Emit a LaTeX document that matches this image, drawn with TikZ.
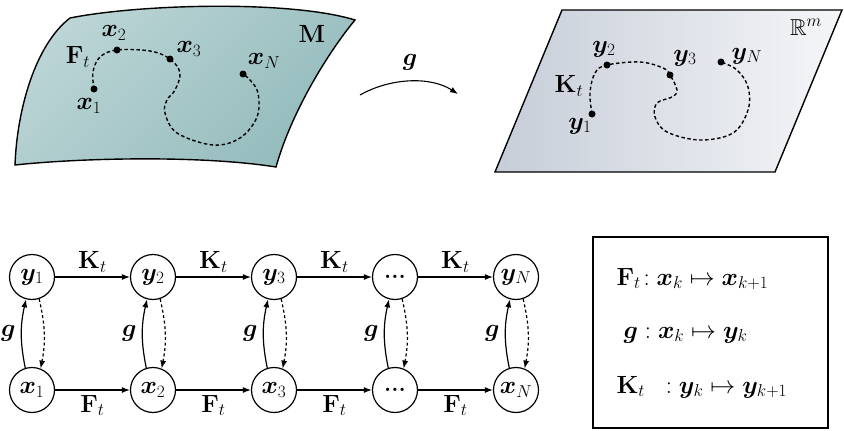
\documentclass[tikz,border=0pt]{standalone}
\usepackage{amsmath,amssymb,bm}
\usetikzlibrary{arrows.meta,calc}
\newcommand\sbx[1]{_{\mbox{\fontsize{19}{22}\selectfont$#1$}}}
\newcommand\spx[1]{^{\mbox{\fontsize{19}{22}\selectfont$#1$}}}
\definecolor{mlight}{RGB}{188,213,214}
\definecolor{mdark}{RGB}{148,187,188}
\definecolor{pdark}{RGB}{198,205,216}
\definecolor{plight}{RGB}{245,246,248}
\begin{document}
\begin{tikzpicture}[x=1pt,y=-1pt,
  font=\fontsize{23}{28}\selectfont,
  dot/.style={circle,fill=black,inner sep=0pt,minimum size=7pt},
  state/.style={circle,draw,line width=1.2pt,minimum size=45pt,inner sep=0pt},
  arr/.style={-{Latex[length=8pt,width=6pt]},line width=1.2pt},
  darr/.style={arr,dash pattern=on 3pt off 2.5pt},
  curve/.style={line width=1.4pt,dash pattern=on 3.5pt off 2.5pt},
  edge/.style={line width=1.4pt}]
\useasboundingbox (0,0) rectangle (844,431);

% ---- manifold M ----
\shade[top color=mlight,bottom color=mdark,shading angle=45]
  (70,18) .. controls (140,4) and (290,0) .. (355,20)
  .. controls (330,50) and (292,110) .. (276,167)
  .. controls (200,155) and (80,158) .. (15,165)
  .. controls (17,110) and (35,45) .. (70,18) -- cycle;
\draw[edge]
  (70,18) .. controls (140,4) and (290,0) .. (355,20)
  .. controls (330,50) and (292,110) .. (276,167)
  .. controls (200,155) and (80,158) .. (15,165)
  .. controls (17,110) and (35,45) .. (70,18) -- cycle;
\draw[curve] plot[smooth,tension=0.6] coordinates {(94,89) (93,72) (100,57) (117,50) (150,51) (170,59) (180,73) (175,90) (167,100) (165,113) (177,133) (213,145) (240,138) (257,117) (258,93) (250,80) (243,74)};
\node[dot] (px1) at (94,89) {};
\node[dot] (px2) at (117,50) {};
\node[dot] (px3) at (170,59) {};
\node[dot] (pxN) at (243,74) {};
\node (lx1) at (89,106) {$\boldsymbol{x}\sbx{1}$};
\node (lx2) at (114,33) {$\boldsymbol{x}\sbx{2}$};
\node (lx3) at (189,49) {$\boldsymbol{x}\sbx{3}$};
\node (lxN) at (264,61) {$\boldsymbol{x}\sbx{N}$};
\node (lF) at (78,57) {$\mathbf{F}\sbx{t}$};
\node (lM) at (312,34) {$\mathbf{M}$};

% ---- map g ----
\coordinate (ga) at (360,95);
\coordinate (gb) at (458,94);
\draw[arr,line width=1.1pt] (ga) .. controls (390,78) and (430,76) .. (gb);
\node (lg) at (410,62) {$\boldsymbol{g}$};

% ---- plane R^m ----
\shade[left color=pdark,right color=plight]
  (562,10) -- (842,10) -- (775,172) -- (495,172) -- cycle;
\draw[edge] (562,10) -- (842,10) -- (775,172) -- (495,172) -- cycle;
\draw[curve] plot[smooth,tension=0.6] coordinates {(592,114) (590,93) (595,73) (607,65) (640,62) (663,68) (670,75) (677,90) (672,97) (657,103) (655,117) (667,132) (700,140) (733,133) (748,110) (748,87) (737,70) (721,62)};
\node[dot] (py1) at (592,114) {};
\node[dot] (py2) at (607,65) {};
\node[dot] (py3) at (670,75) {};
\node[dot] (pyN) at (721,62) {};
\node (ly1) at (580,126) {$\boldsymbol{y}\sbx{1}$};
\node (ly2) at (604,49) {$\boldsymbol{y}\sbx{2}$};
\node (ly3) at (685,58) {$\boldsymbol{y}\sbx{3}$};
\node (lyN) at (747,56) {$\boldsymbol{y}\sbx{N}$};
\node (lK) at (569,86) {$\mathbf{K}\sbx{t}$};
\node (lR) at (806,27) {$\mathbb{R}\spx{m}$};

% ---- chain diagram ----
\foreach \i/\xx/\ylab/\xlab in {1/32/{\boldsymbol{y}\sbx{1}}/{\boldsymbol{x}\sbx{1}},2/153/{\boldsymbol{y}\sbx{2}}/{\boldsymbol{x}\sbx{2}},3/274/{\boldsymbol{y}\sbx{3}}/{\boldsymbol{x}\sbx{3}},4/395/{\textbf{...}}/{\textbf{...}},5/516/{\boldsymbol{y}\sbx{N}}/{\boldsymbol{x}\sbx{N}}}{
  \node[state] (y\i) at (\xx,277) {$\ylab$};
  \node[state] (x\i) at (\xx,390) {$\xlab$};
  \draw[arr] (x\i.107) to[bend left=12] node[left=2pt] {$\boldsymbol{g}$} (y\i.255);
  \draw[darr] (y\i.288) to[bend left=12] (x\i.68);
}
\foreach \a/\b in {1/2,2/3,3/4,4/5}{
  \draw[arr] (y\a) -- node[above=1pt] {$\mathbf{K}\sbx{t}$} (y\b);
  \draw[arr] (x\a) -- node[below=1pt] {$\mathbf{F}\sbx{t}$} (x\b);
}

% ---- legend ----
\draw[line width=1.8pt] (593,237) rectangle (828,428);
\node[anchor=base west] (l1) at (613,285) {$\mathbf{F}\sbx{t}\!: \boldsymbol{x}\sbx{k} \mapsto \boldsymbol{x}\sbx{k{+}1}$};
\node[anchor=base west] (l2) at (620,338) {$\boldsymbol{g}: \boldsymbol{x}\sbx{k} \mapsto \boldsymbol{y}\sbx{k}$};
\node[anchor=base west] (l3) at (613,393) {$\mathbf{K}\sbx{t}\ \ : \boldsymbol{y}\sbx{k} \mapsto \boldsymbol{y}\sbx{k{+}1}$};
\end{tikzpicture}
\end{document}
